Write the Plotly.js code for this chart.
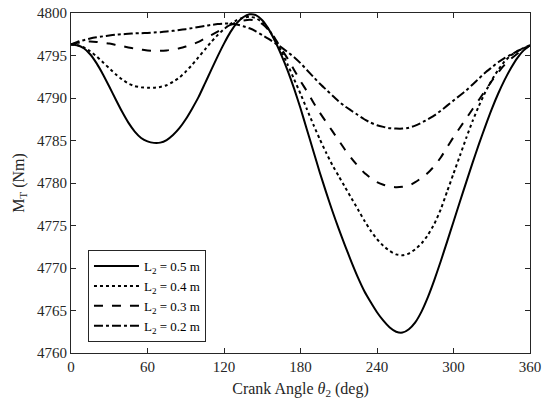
<!DOCTYPE html>
<html>
<head>
<meta charset="utf-8">
<script src="https://cdn.plot.ly/plotly-3.0.1.min.js"></script>
<style>html,body{margin:0;padding:0;background:#fff;}#chart{width:550px;height:409px;}</style>
</head>
<body>
<div id="chart"></div>
<script>
const angles = [0,5,10,15,20,25,30,35,40,45,50,55,60,65,70,75,80,85,90,95,100,105,110,115,120,125,130,135,140,145,150,155,160,165,170,175,180,185,190,195,200,205,210,215,220,225,230,235,240,245,250,255,260,265,270,275,280,285,290,295,300,305,310,315,320,325,330,335,340,345,350,355,360];

const torqueL05 = [4796.3,4796.2,4795.85,4795.15,4794.1,4792.8,4791.35,4789.85,4788.4,4787.1,4786.05,4785.3,4784.9,4784.72,4784.75,4785.05,4785.65,4786.45,4787.5,4788.75,4790.1,4791.7,4793.3,4794.9,4796.4,4797.75,4798.8,4799.5,4799.85,4799.75,4799.15,4798.1,4796.7,4795.05,4793.2,4791.1,4788.8,4786.3,4783.8,4781.3,4778.95,4776.7,4774.6,4772.6,4770.7,4768.9,4767.3,4766.0,4764.8,4763.8,4763.0,4762.5,4762.4,4762.8,4763.6,4764.9,4766.6,4768.6,4770.8,4773.1,4775.45,4777.8,4780.1,4782.4,4784.6,4786.7,4788.7,4790.5,4792.1,4793.5,4794.7,4795.6,4796.2];

const torqueL04 = [4796.3,4796.2,4795.95,4795.5,4794.9,4794.2,4793.5,4792.8,4792.2,4791.7,4791.4,4791.25,4791.2,4791.2,4791.3,4791.5,4791.9,4792.4,4793.1,4793.9,4794.8,4795.7,4796.6,4797.4,4798.1,4798.7,4799.15,4799.45,4799.55,4799.4,4798.9,4798.1,4796.9,4795.5,4793.9,4792.2,4790.5,4788.7,4786.9,4785.2,4783.6,4782.1,4780.8,4779.5,4778.2,4776.9,4775.6,4774.4,4773.4,4772.6,4772.0,4771.6,4771.5,4771.7,4772.2,4772.9,4773.9,4775.2,4776.9,4779.0,4781.1,4783.2,4785.3,4787.3,4789.1,4790.7,4792.1,4793.3,4794.3,4795.0,4795.5,4795.9,4796.2];

const torqueL03 = [4796.3,4796.5,4796.6,4796.65,4796.6,4796.5,4796.4,4796.25,4796.1,4795.95,4795.8,4795.7,4795.6,4795.55,4795.55,4795.6,4795.7,4795.85,4796.05,4796.3,4796.6,4797.0,4797.4,4797.8,4798.2,4798.6,4798.9,4799.1,4799.2,4799.1,4798.7,4798.0,4797.0,4795.8,4794.6,4793.3,4792.0,4790.8,4789.5,4788.3,4787.2,4786.1,4785.0,4783.9,4782.9,4782.0,4781.2,4780.6,4780.1,4779.8,4779.6,4779.5,4779.55,4779.7,4780.1,4780.6,4781.2,4782.0,4783.0,4784.2,4785.4,4786.5,4787.6,4788.7,4789.8,4790.9,4792.0,4793.0,4793.9,4794.6,4795.2,4795.7,4796.2];

const torqueL02 = [4796.3,4796.6,4796.8,4797.0,4797.15,4797.25,4797.35,4797.45,4797.5,4797.55,4797.6,4797.62,4797.65,4797.7,4797.75,4797.82,4797.9,4798.0,4798.1,4798.22,4798.35,4798.48,4798.6,4798.7,4798.75,4798.75,4798.65,4798.45,4798.2,4797.85,4797.4,4796.95,4796.45,4795.95,4795.4,4794.8,4794.1,4793.3,4792.5,4791.7,4791.0,4790.3,4789.6,4789.0,4788.5,4788.0,4787.5,4787.1,4786.8,4786.6,4786.45,4786.4,4786.4,4786.5,4786.75,4787.1,4787.5,4787.95,4788.5,4789.1,4789.7,4790.3,4790.9,4791.6,4792.3,4793.0,4793.6,4794.2,4794.7,4795.1,4795.5,4795.85,4796.2];

const seriesNames = ['L<sub>2</sub> = 0.5 m','L<sub>2</sub> = 0.4 m','L<sub>2</sub> = 0.3 m','L<sub>2</sub> = 0.2 m'];
const xTicks = [0,60,120,180,240,300,360];
const yTicks = [4760,4765,4770,4775,4780,4785,4790,4795,4800];

const seriesValues = [torqueL05, torqueL04, torqueL03, torqueL02];
const dashes = ['solid','dot','dash','dashdot'];

const traces = seriesValues.map((vals, i) => ({
  x: angles, y: vals, type: 'scatter', mode: 'lines', name: seriesNames[i],
  line: {color: '#000', width: 2, dash: dashes[i], shape: 'spline', smoothing: 0.5}
}));

const fam = '"Liberation Serif", "Times New Roman", serif';
const font = {family: fam, size: 15, color: '#262626'};
const axisCommon = {
  showgrid: false, zeroline: false, showline: true, linecolor: '#262626', linewidth: 1,
  mirror: 'ticks', ticks: 'inside', ticklen: 5, tickwidth: 1, tickcolor: '#262626',
  tickfont: font
};

const layout = {
  width: 550, height: 409,
  margin: {l: 71, r: 20, t: 13, b: 56},
  paper_bgcolor: '#fff', plot_bgcolor: '#fff',
  font: font,
  showlegend: true,
  xaxis: Object.assign({}, axisCommon, {
    range: [0, 360], tickvals: xTicks, ticktext: xTicks.map(String),
    title: {text: 'Crank Angle <i>θ</i><sub>2</sub> (deg)', font: {family: fam, size: 16, color: '#262626'}, standoff: 8}
  }),
  yaxis: Object.assign({}, axisCommon, {
    range: [4760, 4800], tickvals: yTicks, ticktext: yTicks.map(String),
    title: {text: 'M<sub>T</sub> (Nm)', font: {family: fam, size: 16, color: '#262626'}, standoff: 8}
  }),
  legend: {
    x: 0.037, y: 0.032, xanchor: 'left', yanchor: 'bottom',
    bgcolor: '#fff', bordercolor: '#262626', borderwidth: 1,
    font: {family: fam, size: 13, color: '#000'},
    itemwidth: 45, tracegroupgap: 0
  }
};

Plotly.newPlot('chart', traces, layout, {displayModeBar: false, staticPlot: true});
</script>
</body>
</html>
